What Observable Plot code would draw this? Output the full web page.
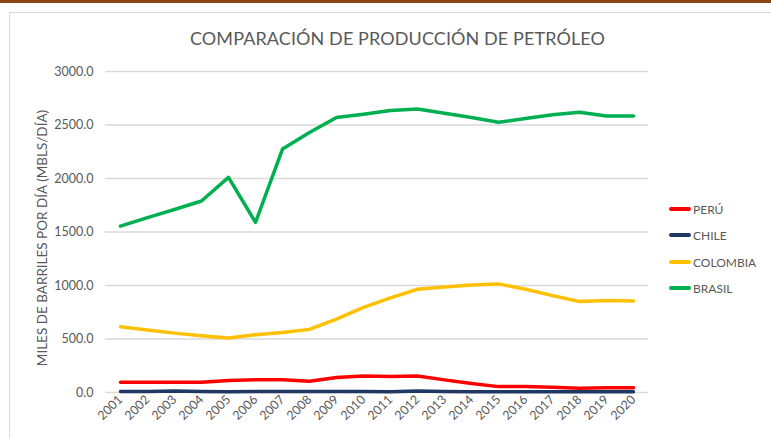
<!DOCTYPE html>
<html>
<head>
<meta charset="utf-8">
<script src="https://cdn.jsdelivr.net/npm/d3@7"></script>
<script src="https://cdn.jsdelivr.net/npm/@observablehq/plot@0.6"></script>
<style>
  html, body { margin: 0; padding: 0; background: #fff; }
  #wrap { position: relative; width: 771px; height: 438px; overflow: hidden; font-family: Lato, "Open Sans", sans-serif; }
  #topbar { position: absolute; left: 0; top: 0; width: 771px; height: 3px; background: #8B4513; }
  #card { position: absolute; left: 9px; top: 12px; width: 800px; height: 500px; border: 1.5px solid #d9d9d9; box-sizing: border-box; }
  #title { position: absolute; left: 0; width: 795px; top: 27px; text-align: center; font-size: 18px; color: #595959; letter-spacing: 0.1px; }
  #chart { position: absolute; left: 0; top: 0; }
  .leg { position: absolute; left: 669px; font-size: 12px; color: #595959; display: flex; align-items: center; height: 16px; }
  .leg span.sw { display: inline-block; width: 22px; height: 4px; border-radius: 2px; margin-right: 2px; }
</style>
</head>
<body>
<div id="wrap">
  <div id="topbar"></div>
  <div id="card"></div>
  <div id="title">COMPARACIÓN DE PRODUCCIÓN DE PETRÓLEO</div>
  <div id="chart"></div>
  <div id="legend"></div>
</div>
<script>
const years = [2001,2002,2003,2004,2005,2006,2007,2008,2009,2010,2011,2012,2013,2014,2015,2016,2017,2018,2019,2020];
const seriesNames = ["PERÚ", "CHILE", "COLOMBIA", "BRASIL"];
const seriesColors = ["#FF0000", "#203864", "#FFC000", "#00B050"];
const peru     = [95, 95, 95, 95, 112, 120, 120, 105, 140, 155, 150, 155, 118, 85, 55, 55, 50, 40, 45, 45];
const chile    = [10, 10, 15, 10, 8, 10, 10, 10, 10, 10, 8, 15, 10, 8, 8, 8, 8, 8, 8, 8];
const colombia = [615, 585, 555, 530, 510, 540, 560, 590, 685, 795, 885, 965, 985, 1005, 1015, 965, 905, 850, 860, 855];
const brasil   = [1555, 1635, 1710, 1790, 2010, 1590, 2275, 2430, 2570, 2600, 2635, 2650, 2610, 2570, 2525, 2560, 2595, 2620, 2585, 2585];
const yTicks = [0, 500, 1000, 1500, 2000, 2500, 3000];
const yLabel = "MILES DE BARRILES POR DÍA (MBLS/DÍA)";

const allSeries = [peru, chile, colombia, brasil];
const data = [];
allSeries.forEach((vals, i) => vals.forEach((v, j) => data.push({year: String(years[j]), value: v, series: seriesNames[i]})));

const chart = Plot.plot({
  width: 771,
  height: 438,
  marginTop: 71,
  marginBottom: 46,
  marginLeft: 105,
  marginRight: 123,
  style: { fontFamily: "Lato, 'Open Sans', sans-serif", fontSize: "12.5px", color: "#595959", background: "transparent", overflow: "visible" },
  x: { type: "point", domain: years.map(String), padding: 0.5 },
  y: { domain: [0, 3000] },
  color: { domain: seriesNames, range: seriesColors },
  marks: [
    Plot.ruleY(yTicks, { stroke: "#d9d9d9", strokeWidth: 1.3 }),
    Plot.axisY({ ticks: yTicks, tickFormat: d => d.toFixed(1), tickSize: 0, tickPadding: 12, label: null, fill: "#595959", fontSize: 12.5 }),
    Plot.axisX({ tickSize: 0, tickRotate: -45, tickPadding: 5, label: null, fill: "#595959", fontSize: 12.5 }),
    Plot.line(data, { x: "year", y: "value", z: "series", stroke: "series", strokeWidth: 3.5, strokeLinejoin: "round", strokeLinecap: "round" }),
    Plot.text([yLabel], { frameAnchor: "left", textAnchor: "middle", dx: -63, dy: 6, rotate: -90, text: d => d, fill: "#595959", fontSize: 13.5 })
  ]
});
document.getElementById("chart").appendChild(chart);

const legend = document.getElementById("legend");
const legTops = [201, 227, 254, 280];
seriesNames.forEach((name, i) => {
  const d = document.createElement("div");
  d.className = "leg";
  d.style.top = legTops[i] + "px";
  d.innerHTML = `<span class="sw" style="background:${seriesColors[i]}"></span>${name}`;
  legend.appendChild(d);
});
</script>
</body>
</html>
